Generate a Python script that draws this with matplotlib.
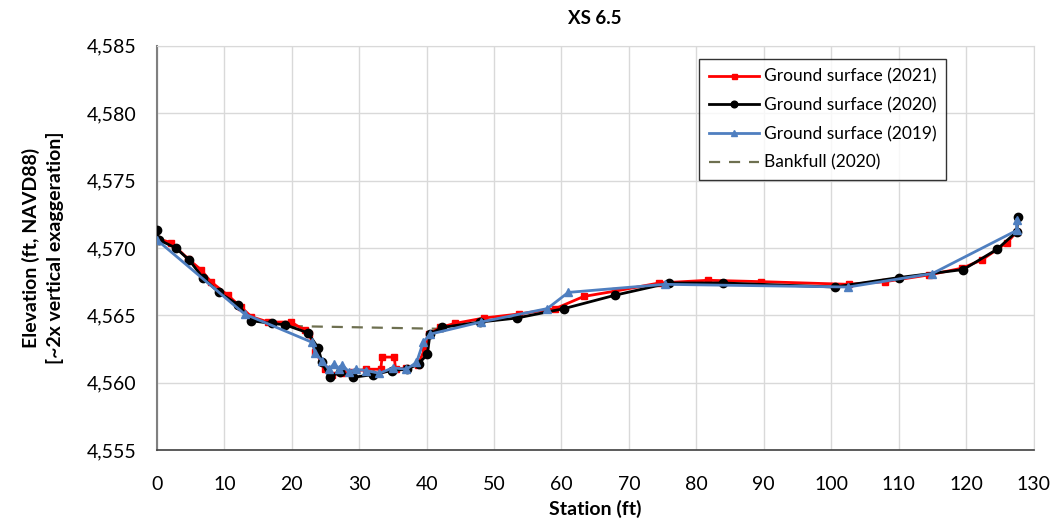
import matplotlib
matplotlib.use("Agg")
import matplotlib.pyplot as plt
from matplotlib.ticker import FuncFormatter, MultipleLocator

plt.rcParams['font.family'] = ['Lato', 'DejaVu Sans']

# Ground surface surveys: station (ft) and elevation (ft, NAVD88)
sta_2021 = [0, 2.1, 4.6, 6.5, 8.0, 10.5, 12.5, 14.0, 16.5, 19.9, 21.9, 22.6, 23.5,
            25.0, 26.0, 27.5, 29.0, 31.0, 33.2, 33.4, 35.2, 35.4, 37.0, 38.7, 39.8,
            40.3, 42.0, 44.2, 48.5, 53.7, 59.1, 63.3, 68.0, 74.5, 81.7, 89.6, 102.6,
            108.0, 114.5, 119.4, 122.3, 126.1, 127.5]
elev_2021 = [4570.7, 4570.4, 4569.2, 4568.4, 4567.5, 4566.5, 4565.6, 4564.9, 4564.5,
             4564.5, 4563.9, 4563.6, 4562.3, 4561.0, 4560.6, 4560.7, 4560.8, 4561.0,
             4561.0, 4561.9, 4561.9, 4561.0, 4561.1, 4561.3, 4562.6, 4563.6, 4564.1,
             4564.4, 4564.8, 4565.1, 4565.5, 4566.4, 4566.8, 4567.4, 4567.6, 4567.5,
             4567.3, 4567.5, 4568.0, 4568.5, 4569.1, 4570.4, 4571.2]

sta_2020 = [0, 0.3, 2.8, 4.8, 6.8, 9.2, 12.0, 14.0, 17.0, 19.0, 22.4, 23.9, 24.5,
            25.6, 27.1, 29.1, 32.1, 34.8, 37.1, 38.8, 40.1, 40.5, 42.3, 47.9, 53.4,
            60.4, 68.0, 76.0, 83.9, 100.5, 110.0, 119.6, 124.6, 127.5, 127.7]
elev_2020 = [4571.3, 4570.6, 4570.0, 4569.1, 4567.8, 4566.7, 4565.8, 4564.6, 4564.4,
             4564.3, 4563.7, 4562.6, 4561.5, 4560.4, 4560.8, 4560.4, 4560.6, 4560.9,
             4561.0, 4561.4, 4562.1, 4563.6, 4564.1, 4564.5, 4564.8, 4565.5, 4566.5,
             4567.4, 4567.4, 4567.1, 4567.8, 4568.4, 4569.9, 4571.2, 4572.3]

sta_2019 = [0, 13.0, 23.0, 23.5, 24.5, 25.5, 26.3, 27.0, 27.5, 28.5, 29.5, 31.0,
            33.0, 35.0, 37.0, 38.5, 39.5, 40.5, 48.0, 57.9, 61.0, 75.3, 102.5, 115.0,
            127.5, 127.5]
elev_2019 = [4570.6, 4565.1, 4563.0, 4562.2, 4561.6, 4561.0, 4561.4, 4561.0, 4561.3,
             4560.8, 4561.0, 4560.9, 4560.7, 4561.1, 4561.0, 4561.5, 4563.0, 4563.6,
             4564.5, 4565.5, 4566.7, 4567.3, 4567.1, 4568.1, 4571.3, 4572.1]

sta_bankfull = [20.0, 42.0]
elev_bankfull = [4564.2, 4564.0]

fig = plt.figure(figsize=(10.6, 5.27), dpi=100)
ax = fig.add_axes([0.148, 0.146, 0.827, 0.767])

ax.plot(sta_2021, elev_2021, color='#FF0000', lw=2.0, marker='s', ms=4.5,
        label='Ground surface (2021)', zorder=3)
ax.plot(sta_2020, elev_2020, color='black', lw=2.0, marker='o', ms=6,
        label='Ground surface (2020)', zorder=4)
ax.plot(sta_2019, elev_2019, color='#4F7FC0', lw=2.0, marker='^', ms=6,
        label='Ground surface (2019)', zorder=5)
ax.plot(sta_bankfull, elev_bankfull, color='#6E7050', lw=1.6, ls=(0, (5, 4)),
        label='Bankfull (2020)', zorder=2)

ax.set_xlim(0, 130)
ax.set_ylim(4555, 4585)
ax.xaxis.set_major_locator(MultipleLocator(10))
ax.yaxis.set_major_locator(MultipleLocator(5))
ax.yaxis.set_major_formatter(FuncFormatter(lambda v, p: f"{v:,.0f}"))

ax.grid(True, color='#D9D9D9', lw=1.0)
ax.set_axisbelow(True)
for side in ('top', 'right'):
    ax.spines[side].set_color('#D9D9D9')
ax.spines['left'].set_color('#808080')
ax.spines['left'].set_linewidth(1.5)
ax.spines['bottom'].set_color('#404040')
ax.spines['bottom'].set_linewidth(1.2)
ax.tick_params(length=0, labelsize=14)
ax.tick_params(axis='x', pad=19)
ax.tick_params(axis='y', pad=15)

ax.set_title('XS 6.5', fontsize=13.5, fontweight='bold', pad=16)
ax.set_xlabel('Station (ft)', fontsize=14, fontweight='bold', labelpad=5)
ax.set_ylabel('Elevation (ft, NAVD88)\n[~2x vertical exaggeration]', fontsize=14,
              fontweight='bold', labelpad=16, linespacing=1.4)

leg = ax.legend(loc='upper right', bbox_to_anchor=(0.90, 0.967), fontsize=12.5,
                frameon=True, fancybox=False, edgecolor='black', handlelength=2.9,
                handletextpad=0.25, borderpad=0.55, labelspacing=0.72,
                borderaxespad=0, markerscale=0.8)
leg.get_frame().set_linewidth(1.0)

fig.savefig('out.png', dpi=100)
